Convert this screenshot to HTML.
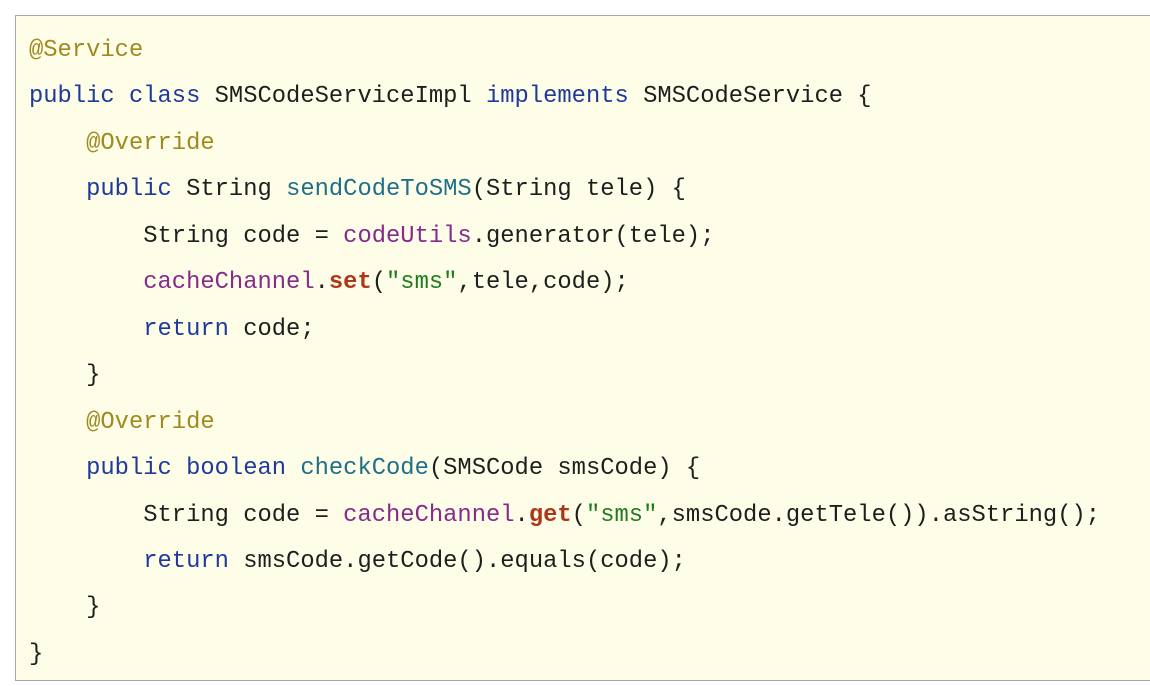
<!DOCTYPE html>
<html><head><meta charset="utf-8"><style>
html,body{margin:0;padding:0;background:#fff;width:1150px;height:686px;overflow:hidden}
.box{position:absolute;left:15px;top:15px;width:1140px;height:666px;background:#fefde8;border:1.5px solid #a8a8a8;border-right:none;box-sizing:border-box}
pre{position:absolute;left:29px;top:28px;margin:0;font-family:"Liberation Mono",monospace;font-size:23.8px;line-height:46.45px;color:#1e1e1e}
.a{color:#a08a20}.k{color:#1f3a9a}.f{color:#1f6f8b}.v{color:#872a8a}.m{color:#b0361a;font-weight:bold}.s{color:#1d7d1d}
</style></head><body>
<div class="box"></div>
<pre><span class="a">@Service</span>
<span class="k">public class</span> SMSCodeServiceImpl <span class="k">implements</span> SMSCodeService {
    <span class="a">@Override</span>
    <span class="k">public</span> String <span class="f">sendCodeToSMS</span>(String tele) {
        String code = <span class="v">codeUtils</span>.generator(tele);
        <span class="v">cacheChannel</span>.<span class="m">set</span>(<span class="s">"sms"</span>,tele,code);
        <span class="k">return</span> code;
    }
    <span class="a">@Override</span>
    <span class="k">public boolean</span> <span class="f">checkCode</span>(SMSCode smsCode) {
        String code = <span class="v">cacheChannel</span>.<span class="m">get</span>(<span class="s">"sms"</span>,smsCode.getTele()).asString();
        <span class="k">return</span> smsCode.getCode().equals(code);
    }
}</pre>
</body></html>
